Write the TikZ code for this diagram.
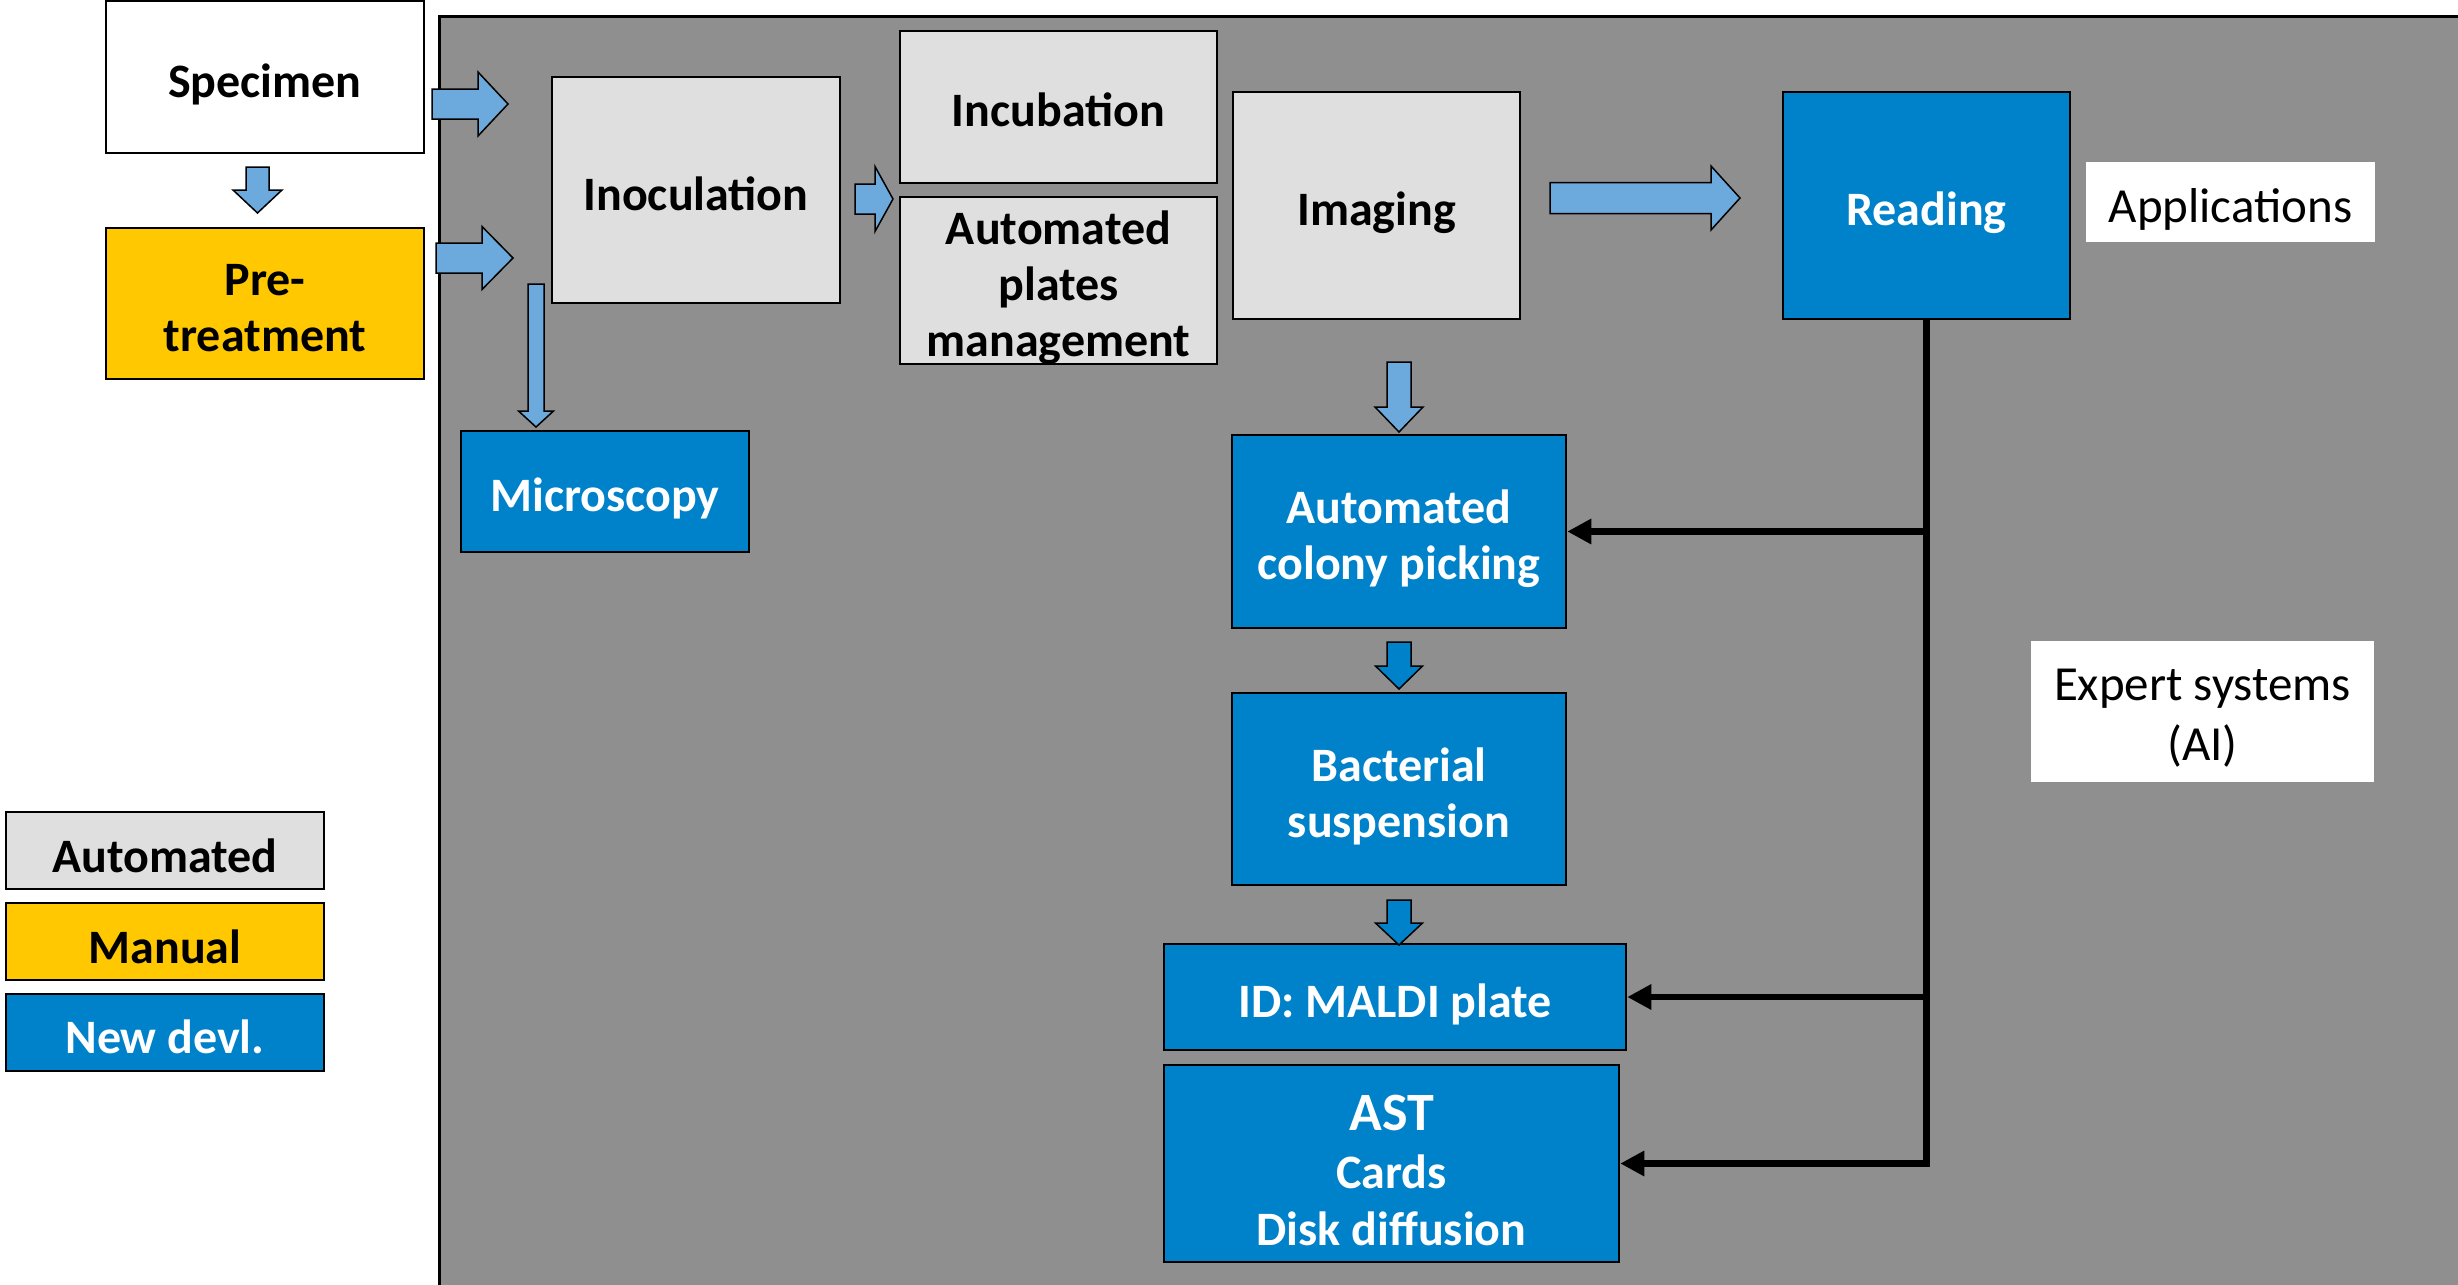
\documentclass[tikz,border=0pt]{standalone}
\usepackage{fontspec}
\setmainfont{Carlito}
\usetikzlibrary{arrows.meta}

\definecolor{panelgray}{RGB}{143,143,143}
\definecolor{autogray}{RGB}{223,223,223}
\definecolor{manualyellow}{RGB}{255,200,0}
\definecolor{newblue}{RGB}{0,130,202}
\definecolor{arrowblue}{RGB}{108,169,220}

\tikzset{
  box/.style={draw=black, line width=2.5pt, inner sep=0pt},
  autobox/.style={box, fill=autogray},
  manualbox/.style={box, fill=manualyellow},
  newbox/.style={box, fill=newblue},
  whitebox/.style={box, fill=white},
  plainbox/.style={fill=white, inner sep=0pt},
  darktext/.style={inner sep=0pt, align=center, font=\fontsize{48}{56}\selectfont\bfseries},
  lighttext/.style={darktext, text=white},
  plaintext/.style={inner sep=0pt, align=center, font=\fontsize{49}{60}\selectfont},
  blockarr/.style={draw=black, line width=1.5pt, line join=miter},
  feed/.style={line width=6.5pt, -{Triangle[length=24pt,width=24pt]}},
}

% box with its caption: [caption style]{box style}{name}{centre}{width}{height}{caption}
\newcommand{\boxnode}[7][darktext]{%
  \node[#2, minimum width=#5, minimum height=#6] (#3) at #4 {};
  \node[#1] (#3-t) at ([yshift=-7pt]#3.center) {#7};}

% block arrow pointing right: [fill]{tail x}{head x}{tip x}{centre y}{shaft half}{head half}
\newcommand{\barR}[7][arrowblue]{%
  \filldraw[blockarr, fill=#1] (#2,#5-#6) -- (#3,#5-#6) -- (#3,#5-#7) -- (#4,#5)
    -- (#3,#5+#7) -- (#3,#5+#6) -- (#2,#5+#6) -- cycle;}
% block arrow pointing down: [fill]{centre x}{top y}{head y}{tip y}{shaft half}{head half}
\newcommand{\barD}[7][arrowblue]{%
  \filldraw[blockarr, fill=#1] (#2-#6,#3) -- (#2+#6,#3) -- (#2+#6,#4) -- (#2+#7,#4)
    -- (#2,#5) -- (#2-#7,#4) -- (#2-#6,#4) -- cycle;}

\begin{document}
\begin{tikzpicture}[x=1pt, y=-1pt]
\useasboundingbox (0,0) rectangle (2458,1285);
\clip (0,0) rectangle (2458,1285);
\fill[white] (0,0) rectangle (2458,1285);

% laboratory panel
\filldraw[fill=panelgray, draw=black, line width=3pt] (439,16) rectangle (2480,1310);

% specimen intake
\boxnode{whitebox}{spec}{(265,77)}{318}{152}{Specimen}
\boxnode[{darktext, yshift=2pt}]{manualbox}{pre}{(265,303.5)}{318}{151}{Pre-\\treatment}

% automated line
\boxnode[{darktext, yshift=3pt}]{autobox}{inoc}{(696,190)}{288}{226}{Inoculation}
\boxnode[{darktext, yshift=4pt}]{autobox}{incub}{(1058.5,107)}{317}{152}{Incubation}
\boxnode{autobox}{apm}{(1058.5,280.5)}{317}{167}{Automated\\plates\\management}
\boxnode{autobox}{imag}{(1376.5,205.5)}{287}{227}{Imaging}
\boxnode[lighttext]{newbox}{read}{(1926.5,205.5)}{287}{227}{Reading}
\boxnode[plaintext]{plainbox}{appl}{(2230.5,202)}{289}{80}{Applications}

% downstream steps
\boxnode[lighttext]{newbox}{micro}{(605,491.5)}{288}{121}{Microscopy}
\boxnode[lighttext]{newbox}{acp}{(1399,531.5)}{334}{193}{Automated\\colony picking}
\boxnode[lighttext]{newbox}{bs}{(1399,789)}{334}{192}{Bacterial\\suspension}
\boxnode[lighttext]{newbox}{id}{(1395,997)}{462}{106}{ID: MALDI plate}
\boxnode[{lighttext, font=\fontsize{48}{57.5}\selectfont\bfseries}]{newbox}{ast}{(1391.5,1163.5)}{455}{197}
  {{\fontsize{54}{62}\selectfont AST}\\Cards\\Disk diffusion}
\boxnode[plaintext]{plainbox}{expert}{(2202.5,711.5)}{343}{141}{Expert systems\\(AI)}

% legend
\boxnode[{darktext, yshift=2pt}]{autobox}{legauto}{(165,850.5)}{318}{77}{Automated}
\boxnode[{darktext, yshift=2pt}]{manualbox}{legman}{(165,941.5)}{318}{77}{Manual}
\boxnode[{lighttext, yshift=3pt}]{newbox}{legnew}{(165,1032.5)}{318}{77}{New devl.}

% flow arrows
\barR{432}{478}{508}{104}{15}{32}
\barR{436}{482}{513}{258}{15}{31.5}
\barR{855}{875}{893}{199}{15}{32.5}
\barR{1550}{1711}{1740}{198}{15.5}{32}
\barD{257.5}{167}{190}{213}{11.5}{24.5}
\barD{536}{284}{411}{427}{8}{17.5}
\barD{1399}{362}{407}{432}{12}{24}
\barD[newblue]{1399}{642}{666}{689}{12}{23.5}
\barD[newblue]{1399}{900}{923}{945}{12}{23.5}

% reading feedback
\draw[feed, line join=miter] (read.south) |- (ast.east);
\draw[feed] (read.south |- acp.east) -- (acp.east);
\draw[feed] (read.south |- id.east) -- (id.east);
\end{tikzpicture}
\end{document}
